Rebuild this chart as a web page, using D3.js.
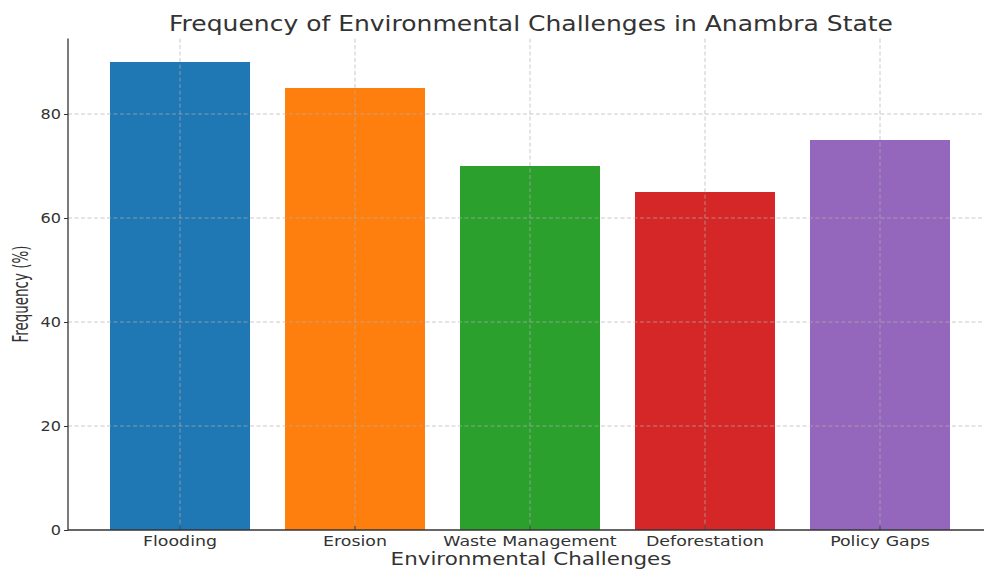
<!DOCTYPE html>
<html>
<head>
<meta charset="utf-8">
<script src="https://cdn.jsdelivr.net/npm/d3@7"></script>
<style>
  html, body { margin: 0; padding: 0; background: #fff; }
  svg { display: block; }
  text { font-family: "DejaVu Sans", sans-serif; fill: #333; }
</style>
</head>
<body>
<svg id="chart" width="984" height="569"></svg>
<script>
// Survey results: share of respondents reporting each challenge
const categories = ["Flooding", "Erosion", "Waste Management", "Deforestation", "Policy Gaps"];
const frequency = [90, 85, 70, 65, 75];
const barColors = ["#1f77b4", "#ff7f0e", "#2ca02c", "#d62728", "#9467bd"];
const yTicks = [0, 20, 40, 60, 80];

const title = "Frequency of Environmental Challenges in Anambra State";
const xTitle = "Environmental Challenges";
const yTitle = "Frequency (%)";

const W = 984, H = 569;
const left = 68, right = 992, bottom = 530;
const yMax = d3.max(frequency) * 1.05;
const stretch = 1.19; // horizontal glyph stretch

const svg = d3.select("#chart");

const x = d3.scaleBand()
  .domain(categories)
  .range([left, right])
  .paddingInner(0.2)
  .paddingOuter(0.24);

const y = d3.scaleLinear()
  .domain([0, yMax])
  .range([bottom, 38.6]);

// bars
svg.append("g")
  .selectAll("rect")
  .data(categories)
  .join("rect")
  .attr("x", d => x(d))
  .attr("y", (d, i) => y(frequency[i]))
  .attr("width", x.bandwidth())
  .attr("height", (d, i) => y(0) - y(frequency[i]))
  .attr("fill", (d, i) => barColors[i]);

// dashed grid drawn above the bars
const grid = svg.append("g")
  .attr("stroke", "#b0b0b0")
  .attr("stroke-opacity", 0.75)
  .attr("stroke-width", 0.9)
  .attr("stroke-dasharray", "4,2.5");

grid.selectAll("line.h")
  .data(yTicks.filter(t => t > 0))
  .join("line")
  .attr("class", "h")
  .attr("x1", left).attr("x2", W)
  .attr("y1", d => y(d)).attr("y2", d => y(d));

grid.selectAll("line.v")
  .data(categories)
  .join("line")
  .attr("class", "v")
  .attr("x1", d => x(d) + x.bandwidth() / 2)
  .attr("x2", d => x(d) + x.bandwidth() / 2)
  .attr("y1", y(yMax)).attr("y2", bottom);

// y axis
const yAxis = svg.append("g")
  .attr("transform", `translate(${left},0)`)
  .call(d3.axisLeft(y).tickValues(yTicks).tickSize(4).tickPadding(4));
yAxis.select(".domain").attr("stroke", "#333").attr("stroke-width", 1.3)
  .attr("d", `M0,${y(yMax)}V${bottom}`);
yAxis.selectAll(".tick line").attr("stroke", "#333").attr("stroke-width", 1);
yAxis.selectAll(".tick text")
  .attr("font-size", 13.5)
  .attr("font-family", "DejaVu Sans")
  .attr("fill", "#333")
  .attr("x", 0)
  .attr("transform", `translate(-7,0) scale(${stretch},1)`);

// x axis, ticks pointing inward
const xAxis = svg.append("g")
  .attr("transform", `translate(0,${bottom})`)
  .call(d3.axisBottom(x).tickSizeInner(-4).tickSizeOuter(0).tickPadding(0));
xAxis.select(".domain").attr("stroke", "#333").attr("stroke-width", 1.3)
  .attr("d", `M${left},0H${W}`);
xAxis.selectAll(".tick line").attr("stroke", "#333").attr("stroke-width", 1);
xAxis.selectAll(".tick text")
  .attr("font-size", 14.5)
  .attr("font-family", "DejaVu Sans")
  .attr("fill", "#333")
  .attr("y", 0).attr("dy", 0)
  .attr("transform", `translate(0,15.5) scale(${stretch + 0.01},1)`);

// titles
svg.append("text")
  .attr("transform", `translate(531,31) scale(${stretch + 0.03},1)`)
  .attr("text-anchor", "middle")
  .attr("font-size", 20.5)
  .text(title);

svg.append("text")
  .attr("transform", `translate(531,565) scale(1.26,1)`)
  .attr("text-anchor", "middle")
  .attr("font-size", 17)
  .text(xTitle);

// rotated label: glyph height lies along the stretched horizontal direction
svg.append("text")
  .attr("transform", `translate(28,294) rotate(-90) scale(0.84,1.28)`)
  .attr("text-anchor", "middle")
  .attr("font-size", 16)
  .text(yTitle);
</script>
</body>
</html>
